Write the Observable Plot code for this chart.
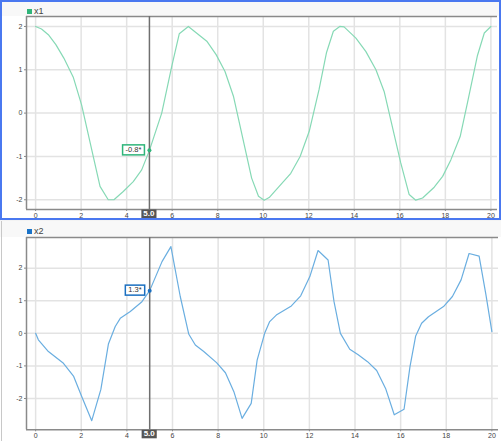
<!DOCTYPE html>
<html><head><meta charset="utf-8">
<script src="https://cdn.jsdelivr.net/npm/d3@7"></script>
<script src="https://cdn.jsdelivr.net/npm/@observablehq/plot@0.6"></script>
<style>
html,body{margin:0;padding:0;background:#f3f3f3;width:501px;height:441px;overflow:hidden;font-family:"Liberation Sans",Arial,sans-serif;}
.abs{position:absolute;}
.legend{position:absolute;font-size:9px;color:#444;line-height:10px;white-space:nowrap;}
.sw{display:inline-block;width:5px;height:5px;margin-right:2px;vertical-align:0px;}
svg{position:absolute;}
</style></head><body>
<div class="abs" style="left:0;top:0;width:501px;height:220px;background:#fff"></div>
<div class="abs" style="left:0;top:0;width:501px;height:16px;background:#f8f8f8"></div>
<div class="abs" style="left:0;top:221px;width:501px;height:220px;background:#fff"></div>
<div class="abs" style="left:0;top:221px;width:501px;height:16px;background:#f8f8f8"></div>
<div class="abs" style="left:1px;top:221px;width:1px;height:220px;background:#c8c8c8"></div>
<div id="c1"></div>
<div id="c2"></div>
<div class="abs" style="left:0;top:0;width:501px;height:220px;box-sizing:border-box;border:2px solid #4a78f0;pointer-events:none"></div>
<div class="legend" style="left:27px;top:6px"><span class="sw" style="background:#2fb57a"></span>x1</div>
<div class="legend" style="left:27px;top:226px"><span class="sw" style="background:#1a73c8"></span>x2</div>
<script>
// ---- data ----
const t1 = [0,0.26,0.56,0.89,1.24,1.66,2.02,2.83,3.19,3.44,3.85,4.29,4.66,5.0,5.54,5.98,6.31,6.71,7.52,7.93,8.32,8.69,9.49,9.79,10.04,10.26,10.7,11.21,11.62,12.02,12.45,12.78,13.08,13.36,13.55,14.07,14.51,14.95,15.31,16.04,16.41,16.70,17.0,17.51,17.88,18.24,18.65,19.0,19.41,19.71,20.0];
const x1 = [2.0,1.94,1.81,1.58,1.27,0.82,0.19,-1.69,-2.0,-2.0,-1.81,-1.58,-1.31,-0.86,0.0,1.08,1.83,2.0,1.66,1.35,0.96,0.39,-1.5,-1.92,-2.01,-1.95,-1.69,-1.39,-1.0,-0.42,0.54,1.40,1.89,2.0,1.99,1.73,1.42,1.0,0.5,-1.15,-1.88,-2.01,-1.96,-1.71,-1.46,-1.08,-0.54,0.31,1.33,1.85,2.0];
const t2 = [0,0.12,0.56,1.22,1.66,2.02,2.46,2.86,3.19,3.49,3.71,4.15,4.66,5.0,5.54,5.93,6.34,6.71,7.0,7.37,7.93,8.32,8.69,9.05,9.45,9.71,10.04,10.26,10.55,11.21,11.62,12.02,12.38,12.82,13.08,13.36,13.77,14.14,14.55,14.95,15.34,15.72,16.15,16.41,16.66,16.92,17.22,17.88,18.27,18.65,19.0,19.44,19.74,20.0];
const x2 = [0,-0.2,-0.56,-0.92,-1.31,-1.94,-2.68,-1.72,-0.33,0.21,0.46,0.67,0.97,1.31,2.2,2.66,1.13,-0.02,-0.36,-0.56,-0.9,-1.21,-1.79,-2.61,-2.15,-0.82,0.0,0.36,0.56,0.84,1.15,1.74,2.54,2.25,0.97,0.0,-0.49,-0.66,-0.87,-1.14,-1.69,-2.5,-2.33,-1.02,-0.08,0.31,0.51,0.82,1.13,1.64,2.45,2.37,1.18,0.05];
const xTicks = [0,2,4,6,8,10,12,14,16,18,20];
const yTicks = [-2,-1,0,1,2];
const xDomain = [-0.4, 20.29];
const y1Domain = [-2.225, 2.23];
const y2Domain = [-2.96, 2.94];
const cursorT = 5.0;
const cursorLabel = "5.0";
const cursorV1 = -0.86, cursorV2 = 1.31;
const tipText1 = "-0.8*", tipText2 = "1.3*";

function makePanel(el, top, height, mt, mb, mr, t, v, yDomain, lineColor, tipColor, tipV, tipText) {
  const data = t.map((d, i) => ({t: d, v: v[i]}));
  const grid = {stroke: "#e3e3e3", strokeOpacity: 1, strokeWidth: 1.5};
  const plot = Plot.plot({
    width: 501, height, marginLeft: 26, marginRight: mr, marginTop: mt, marginBottom: mb,
    style: {fontSize: "7px", fontFamily: "'Liberation Sans',Arial,sans-serif", color: "#444", background: "transparent", overflow: "visible"},
    x: {domain: xDomain, label: null},
    y: {domain: yDomain, label: null},
    marks: [
      Plot.gridX(xTicks, grid),
      Plot.gridY(yTicks, grid),
      Plot.axisX(xTicks, {tickSize: 2, tickPadding: 1.5, tickFormat: d => String(d), stroke: "#888", label: null}),
      Plot.axisY(yTicks, {tickSize: 2, tickPadding: 2, tickFormat: d => String(d), stroke: "#888", label: null}),
      Plot.ruleY([yDomain[1]], {stroke: "#8a8a8a", strokeWidth: 1.5}),
      Plot.ruleY([yDomain[0]], {stroke: "#8a8a8a", strokeWidth: 1.5}),
      Plot.ruleX([xDomain[0]], {stroke: "#8a8a8a", strokeWidth: 1.5}),
      Plot.line(data, {x: "t", y: "v", stroke: lineColor, strokeWidth: 1.2}),
      Plot.ruleX([cursorT], {stroke: "#6f6f6f", strokeWidth: 1.5}),
      Plot.dot([{t: cursorT, v: tipV}], {x: "t", y: "v", r: 2, fill: tipColor, stroke: "none"})
    ]
  });
  plot.style.left = "0px";
  plot.style.top = top + "px";
  document.getElementById(el).appendChild(plot);
  const sx = plot.scale("x"), sy = plot.scale("y");
  const svg = d3.select(plot);
  const cx = sx.apply(cursorT);
  const yBottom = sy.apply(yDomain[0]);
  // cursor label at bottom
  const g = svg.append("g");
  const rect = g.append("rect").attr("fill", "#555");
  const txt = g.append("text").text(cursorLabel).attr("x", cx).attr("y", yBottom + 4.8)
    .attr("text-anchor", "middle").attr("dominant-baseline", "middle")
    .attr("fill", "#fff").attr("font-weight", "bold").attr("font-size", 8);
  const w = txt.node().getComputedTextLength() + 4;
  rect.attr("x", cx - w / 2).attr("y", yBottom + 0.5).attr("width", w).attr("height", 8.5);
  // tooltip
  const py = sy.apply(tipV);
  const g2 = svg.append("g");
  const r2 = g2.append("rect").attr("fill", "#fff").attr("stroke", tipColor).attr("stroke-width", 1.5);
  const t2n = g2.append("text").text(tipText).attr("y", py + 0.3).attr("dominant-baseline", "middle")
    .attr("text-anchor", "middle").attr("fill", "#333").attr("font-size", 7.5);
  const tw = t2n.node().getComputedTextLength() + 6;
  const right = cx - 4.5;
  r2.attr("x", right - tw).attr("y", py - 5).attr("width", tw).attr("height", 10);
  t2n.attr("x", right - tw / 2);
}

makePanel("c1", 0, 219, 16, 10, 4, t1, x1, y1Domain, "#86d9b5", "#2fb57a", cursorV1, tipText1);
makePanel("c2", 221, 220, 16, 11.7, 3, t2, x2, y2Domain, "#6aaee0", "#1a6fc0", cursorV2, tipText2);
</script>
</body></html>
